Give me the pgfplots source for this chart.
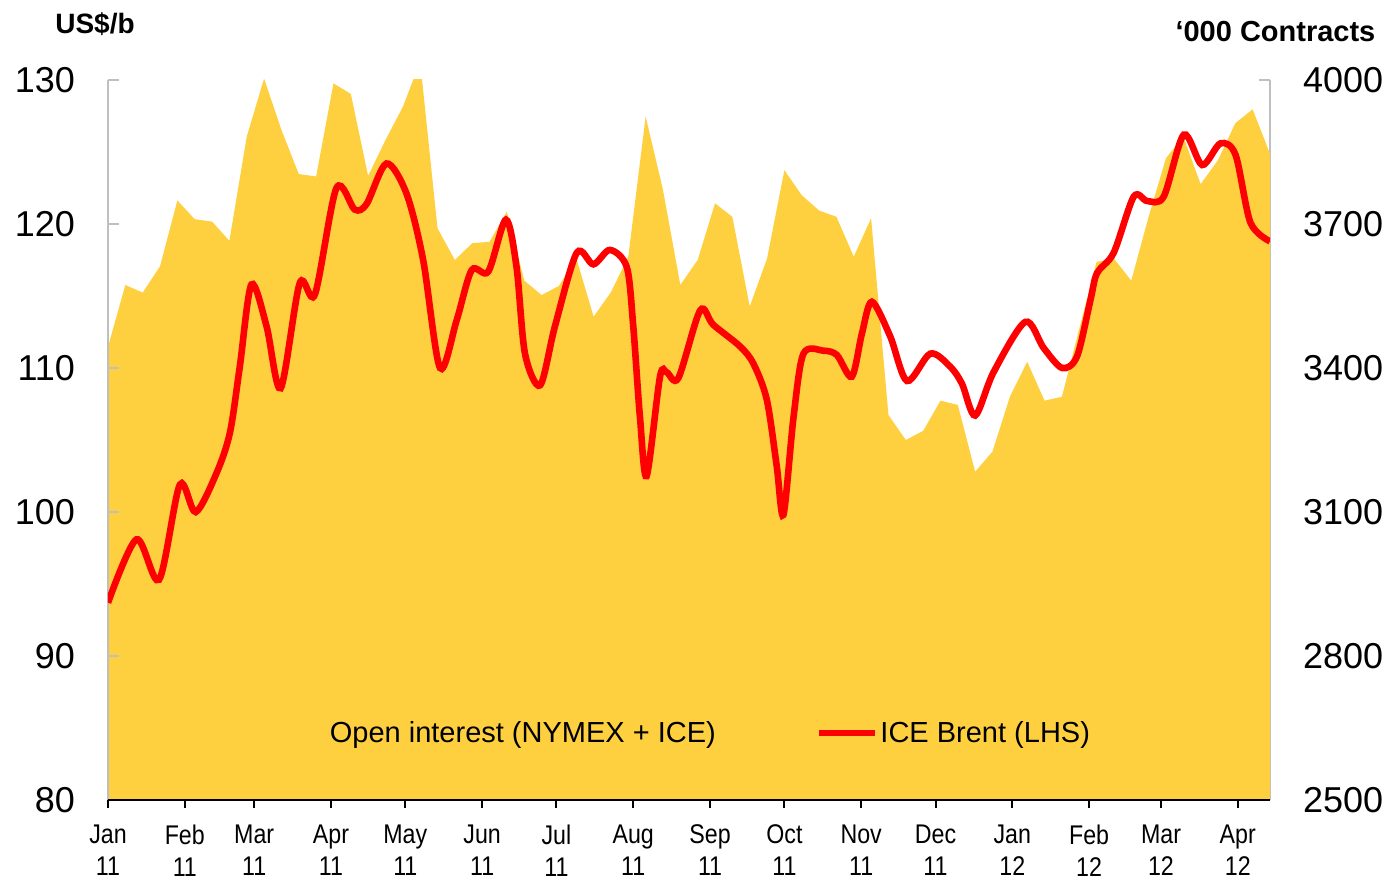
\documentclass[border=0pt]{standalone}
\usepackage{fontspec}
\setmainfont{Liberation Sans}
\newfontfamily\narrowfont[FakeStretch=0.86]{Liberation Sans}
\usepackage{pgfplots}
\pgfplotsset{compat=1.18}
\usepackage{pgfplotstable}
\definecolor{oiyellow}{RGB}{254,208,64}
\definecolor{axisgray}{RGB}{191,191,191}
\definecolor{brentred}{RGB}{255,0,0}

\pgfplotstableread{
day oi
0 3444
7 3573
14 3557
21 3612
28 3749
35 3710
42 3705
49 3665
56 3882
63 4003
70 3896
77 3804
84 3799
91 3993
98 3971
105 3800
112 3875
119 3944
126 4038
133 3691
140 3625
147 3660
154 3663
161 3726
168 3582
175 3552
182 3571
189 3629
196 3507
203 3558
210 3632
217 3924
224 3771
231 3573
238 3625
245 3743
252 3715
259 3528
266 3628
273 3812
280 3760
287 3728
294 3715
301 3632
308 3712
315 3302
322 3250
329 3269
336 3332
343 3323
350 3184
357 3226
364 3340
371 3413
378 3332
385 3340
392 3481
399 3621
406 3628
413 3582
420 3715
427 3837
434 3882
441 3783
448 3833
455 3910
462 3939
469 3846
}\oitable

\pgfplotstableread{
day brent
0 93.7
11.5 98.1
20.6 95.3
29.0 101.9
35.4 100.0
43.8 102.7
49.2 105.5
53.2 110.1
57.9 115.8
64.0 112.9
69.7 108.6
77.4 115.9
83.5 115.1
92.2 122.5
99.6 121.0
104.4 121.4
112.4 124.2
120.5 122.1
127.2 117.5
134.0 110.0
140.7 113.3
146.8 116.8
153.5 116.7
160.6 120.3
164.9 117.0
168.3 111.0
174.4 108.8
180.4 112.9
189.2 118.0
195.9 117.2
202.6 118.2
209.4 117.0
212.0 112.9
214.7 106.6
217.4 102.5
222.8 109.4
225.5 109.7
230.2 109.3
239.0 114.0
244.3 113.0
255.1 111.5
260.5 110.3
265.9 107.8
269.9 103.2
272.6 99.8
276.7 106.6
280.7 111.0
288.8 111.2
294.2 110.9
300.2 109.4
304.3 112.4
308.3 114.6
315.7 112.2
322.5 109.1
331.9 111.0
339.9 110.1
344.7 108.9
350.0 106.7
357.4 109.7
370.2 113.2
377.6 111.4
385.1 110.0
391.1 110.8
396.5 114.7
399.2 116.6
405.9 118.0
414.0 121.9
419.4 121.6
426.1 121.9
434.2 126.2
441.6 124.1
449.0 125.6
455.1 124.8
461.1 120.1
469.0 118.8
}\brenttable

\begin{document}
\begin{tikzpicture}
\pgfplotsset{
  base/.style={
    scale only axis, width=581pt, height=360pt,
    at={(0,0)}, anchor=south west,
    xmin=0, xmax=469,
    /pgf/number format/assume math mode=true,
    /pgf/number format/1000 sep={},
    axis line style={-},
  }
}
% Right axis: open interest area
\begin{axis}[base,
  ymin=2500, ymax=4000,
  axis x line=none,
  axis y line*=right,
  ytick={2500,2800,3100,3400,3700,4000},
  y axis line style={draw=axisgray, line width=1pt},
  ytick style={draw=axisgray, line width=1pt},
  tick align=inside, major tick length=5.5pt,
  yticklabel style={font=\fontsize{18}{18}\selectfont, xshift=13pt},
]
\addplot[fill=oiyellow, draw=none] table[x=day, y=oi] {\oitable} \closedcycle;
\end{axis}
% Left axis: Brent line
\begin{axis}[base,
  ymin=80, ymax=130,
  axis x line=none,
  axis y line*=left,
  ytick={80,90,100,110,120,130},
  y axis line style={draw=axisgray, line width=1pt},
  ytick style={draw=axisgray, line width=1pt},
  tick align=inside, major tick length=5.5pt,
  yticklabel style={font=\fontsize{18}{18}\selectfont, xshift=-13pt},
  legend columns=2,
  legend style={at={(0.140,0.093)}, anchor=west, draw=none, fill=none,
    font=\fontsize{14.5}{14.5}\selectfont, inner sep=0pt,
    nodes={inner sep=1pt},
    /tikz/every even column/.append style={column sep=49pt}},
]
\addlegendimage{legend image code/.code={\fill[oiyellow] (0pt,-6pt) rectangle (28pt,6pt);}}
\addlegendentry{Open interest (NYMEX + ICE)}
\addlegendimage{legend image code/.code={\draw[brentred, line width=3.3pt] (0pt,0pt) -- (28pt,0pt);}}
\addlegendentry{ICE Brent (LHS)}
\addplot[brentred, line width=3.3pt, smooth, tension=0.5, forget plot] table[x=day, y=brent] {\brenttable};
\end{axis}
% Bottom x axis and titles
\begin{axis}[base,
  ymin=0, ymax=1,
  clip=false,
  axis y line=none,
  axis x line*=bottom,
  x axis line style={draw=black, line width=1.2pt},
  xtick style={draw=black, line width=1pt},
  tick align=outside, major tick length=4pt,
  xtick={0,31,59,90,120,151,181,212,243,273,304,334,365,396,425,456},
  xticklabels={Jan\\11,Feb\\11,Mar\\11,Apr\\11,May\\11,Jun\\11,Jul\\11,Aug\\11,Sep\\11,Oct\\11,Nov\\11,Dec\\11,Jan\\12,Feb\\12,Mar\\12,Apr\\12},
  xticklabel style={align=center, font=\narrowfont\fontsize{13.5}{15.8}\selectfont, yshift=-5pt},
]
\node[font=\bfseries\fontsize{14}{14}\selectfont] at (axis description cs:-0.0112,1.0778) {US\$/b};
\node[font=\bfseries\fontsize{14.5}{14.5}\selectfont] at (axis description cs:1.0047,1.067) {`000 Contracts};
\end{axis}
\pgfresetboundingbox
\path[use as bounding box] (-54pt,-41pt) rectangle (641.5pt,400pt);
\end{tikzpicture}
\end{document}
